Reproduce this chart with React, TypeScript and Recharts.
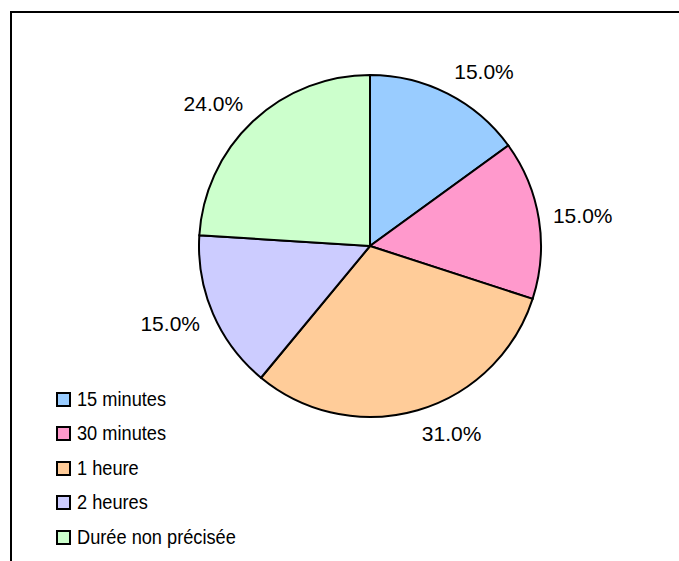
import { PieChart, Pie, Cell, Legend } from 'recharts'

const categories = ['15 minutes', '30 minutes', '1 heure', '2 heures', 'Durée non précisée']
const shares = [15, 15, 31, 15, 24]
const colors = ['#99ccff', '#ff99cc', '#ffcc99', '#ccccff', '#ccffcc']

const data = categories.map((name, i) => ({ name, value: shares[i] }))

const RAD = Math.PI / 180

// excel-ish placement: box touches a point just outside the rim on the mid angle
function renderLabel(props: any) {
  const { cx, cy, midAngle, outerRadius, value } = props
  const c = Math.cos(-midAngle * RAD)
  const s = Math.sin(-midAngle * RAD)
  const px = cx + (outerRadius + 14) * c
  const py = cy + (outerRadius + 14) * s
  const w = 60
  const h = 20
  const x = px + Math.sign(c) * (w / 2)
  const y = py + Math.max(-1, Math.min(1, s * 1.1)) * (h / 2)
  return (
    <text
      x={x}
      y={y}
      textAnchor="middle"
      dominantBaseline="central"
      fill="#000"
      fontSize={21}
      fontFamily="'Liberation Sans', Arial, sans-serif"
    >
      {`${Number(value).toFixed(1)}%`}
    </text>
  )
}

// legend keeps the series order (recharts sorts the payload by name)
function LegendBox({ payload }: any) {
  const items = [...(payload || [])].sort(
    (a: any, b: any) => categories.indexOf(a.value) - categories.indexOf(b.value),
  )
  return (
    <div style={{ fontFamily: "'Liberation Sans', Arial, sans-serif" }}>
      {items.map((p: any) => (
        <div key={p.value} style={{ display: 'flex', alignItems: 'center', height: 34.5 }}>
          <span
            style={{
              width: 15,
              height: 15,
              boxSizing: 'border-box',
              border: '2px solid #000',
              background: colors[categories.indexOf(p.value)],
              marginRight: 6,
              flexShrink: 0,
            }}
          />
          <span
            style={{
              fontSize: 20,
              color: '#000',
              whiteSpace: 'nowrap',
              display: 'inline-block',
              transform: 'scaleX(0.91)',
              transformOrigin: 'left center',
            }}
          >
            {p.value}
          </span>
        </div>
      ))}
    </div>
  )
}

export default function App() {
  return (
    <div style={{ position: 'absolute', left: 0, top: 0, width: 679, height: 561, background: '#fff', overflow: 'hidden' }}>
      <div
        style={{
          position: 'absolute',
          left: 10,
          top: 11,
          width: 669,
          height: 550,
          borderTop: '2px solid #000',
          borderLeft: '2px solid #000',
        }}
      />
      <div style={{ position: 'absolute', left: 0, top: 0 }}>
        <PieChart width={679} height={561} margin={{ top: 0, right: 0, bottom: 0, left: 0 }}>
          <Pie
            data={data}
            dataKey="value"
            nameKey="name"
            cx={370}
            cy={246}
            outerRadius={171}
            startAngle={90}
            endAngle={-270}
            stroke="#000"
            strokeWidth={2}
            label={renderLabel}
            labelLine={false}
            isAnimationActive={false}
          >
            {data.map((d, i) => (
              <Cell key={d.name} fill={colors[i]} />
            ))}
          </Pie>
          <Legend
            layout="vertical"
            align="center"
            verticalAlign="middle"
            content={<LegendBox />}
            wrapperStyle={{ left: 56, top: 382, width: 260 }}
          />
        </PieChart>
      </div>
    </div>
  )
}
